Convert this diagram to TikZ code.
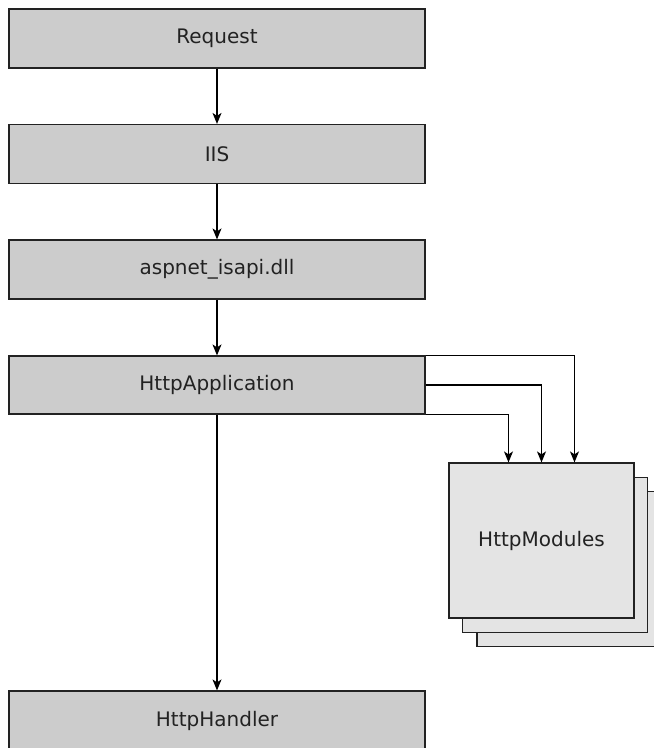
\documentclass[tikz,border=0pt]{standalone}
\usepackage{fontspec}
\setmainfont{DejaVu Sans}
\usetikzlibrary{arrows.meta}
\definecolor{boxgray}{HTML}{CCCCCC}
\definecolor{modgray}{HTML}{E4E4E4}
\definecolor{edge}{HTML}{222222}
\begin{document}
\begin{tikzpicture}[x=1pt,y=-1pt,
  flowbox/.style={draw=edge,line width=1.2pt,fill=boxgray,minimum width=416pt,minimum height=59pt,inner sep=0pt,text=edge,font=\fontsize{20}{24}\selectfont},
  modbox/.style={draw=edge,line width=1.2pt,fill=modgray,minimum width=185pt,minimum height=155pt,inner sep=0pt,text=edge,font=\fontsize{20}{24}\selectfont},
  conn/.style={draw=black,line width=1.3pt,-{Stealth[length=11pt,width=9pt,inset=3pt]}}]
\useasboundingbox (0,0) rectangle (654,748);
\clip (0,0) rectangle (654,748);
\fill[white] (0,0) rectangle (654,748);
\node[flowbox] (req) at (217,38.5) {Request};
\node[flowbox] (iis) at (217,154) {IIS};
\node[flowbox] (isapi) at (217,269.5) {aspnet\_isapi.dll};
\node[flowbox,minimum height=58pt] (app) at (217,385) {HttpApplication};
\node[flowbox] (handler) at (217,720.5) {HttpHandler};
\node[modbox] (mod3) at (569.5,569) {};
\node[modbox] (mod2) at (555,555) {};
\node[modbox] (mod) at (541.5,540.5) {HttpModules};
\draw[conn] (req) -- (iis);
\draw[conn] (iis) -- (isapi);
\draw[conn] (isapi) -- (app);
\draw[conn] (app) -- (handler);
\draw[conn] (app.north east) -| ([xshift=33pt]mod.north);
\draw[conn] (app.east) -| (mod.north);
\draw[conn] (app.south east) -| ([xshift=-33pt]mod.north);
\end{tikzpicture}
\end{document}
